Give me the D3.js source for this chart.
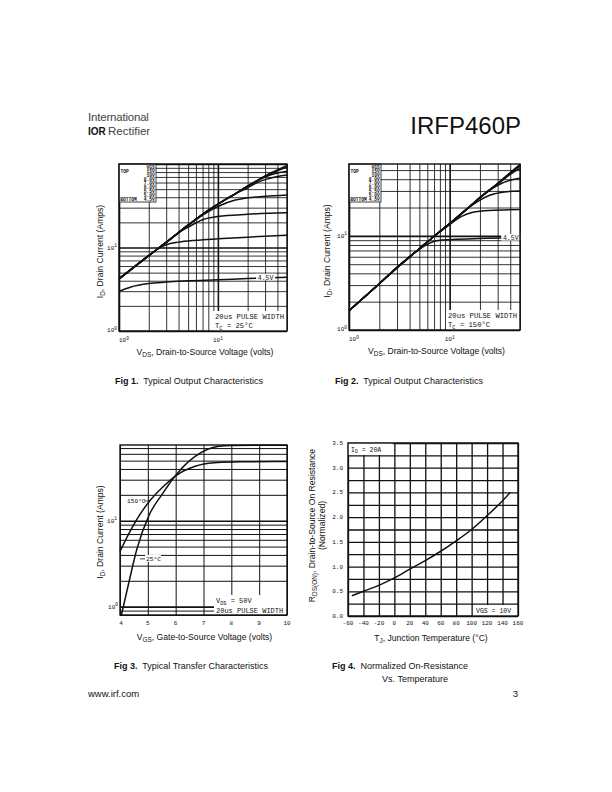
<!DOCTYPE html>
<html lang="en">
<head>
<meta charset="UTF-8">
<title>IRFP460P</title>
<script src="https://d3js.org/d3.v7.min.js"></script>
<style>
  body { margin: 0; background: #fff; }
  svg { display: block; }
  text { font-family: "Liberation Sans", Arial, sans-serif; fill: #111; }
  .mono { font-family: "Liberation Mono", "DejaVu Sans Mono", monospace; }
</style>
</head>
<body>
<div id="page"></div>
<script>
// ---------- data ----------
const vgsSteps = ["15V", "10V", "8.0V", "7.0V", "6.0V", "5.5V", "5.0V", "4.5V"];

// Fig 1: Tc = 25C, [VDS (V), ID (A)] per VGS step
const fig1_15V = [[1,4.2],[2,8],[3,11.5],[5,18.5],[7,25],[10,33],[15,44],[22,58],[30,72],[40,85],[50,96]];
const fig1_10V = [[1,4.2],[2,8],[3,11.5],[5,18.5],[7,25],[10,33],[15,44],[22,58],[30,71],[40,83],[50,92]];
const fig1_8V  = [[1,4.2],[2,8],[3,11.5],[5,18.5],[7,25],[10,33],[15,44],[22,58],[30,70],[40,78],[50,82]];
const fig1_7V  = [[1,4.2],[2,8],[3,11.5],[5,18.5],[7,25],[10,33],[15,44],[20,52],[25,60],[30,65],[40,71],[50,74]];
const fig1_6V  = [[1,4.2],[2,8],[3,11.5],[5,18.5],[7,24.5],[10,31],[15,37],[20,39.5],[30,41],[50,42.5]];
const fig1_55V = [[1,4.2],[2,8],[3,11.5],[4,15],[5,17.5],[7,21.5],[10,23.5],[20,25],[50,26]];
const fig1_5V  = [[1,4.2],[2,8],[2.6,10],[3,10.8],[4,11.6],[6,12.2],[10,12.7],[20,13.3],[50,14]];
const fig1_45V = [[1,3.0],[1.3,3.35],[2,3.7],[3,3.85],[5,4],[10,4.1],[20,4.25],[50,4.4]];
const fig1Curves = [fig1_15V, fig1_10V, fig1_8V, fig1_7V, fig1_6V, fig1_55V, fig1_5V, fig1_45V];

// Fig 2: Tc = 150C
const fig2_15V = [[1,1.6],[2,3.1],[3,4.6],[5,7.3],[7,9.9],[10,13.5],[15,19.5],[20,25.5],[30,36],[40,47],[50,57]];
const fig2_10V = [[1,1.6],[2,3.1],[3,4.6],[5,7.3],[7,9.9],[10,13.5],[15,19.5],[20,25.5],[30,36],[40,46.5],[50,56.5]];
const fig2_8V  = [[1,1.6],[2,3.1],[3,4.6],[5,7.3],[7,9.9],[10,13.5],[15,19.5],[20,25.5],[30,36],[40,46],[50,55]];
const fig2_7V  = [[1,1.6],[2,3.1],[3,4.6],[5,7.3],[7,9.9],[10,13.5],[15,19.5],[20,25.5],[30,35.5],[40,45],[50,52]];
const fig2_6V  = [[1,1.6],[2,3.1],[3,4.6],[5,7.3],[7,9.9],[10,13.5],[15,19.5],[20,25.5],[25,30.5],[30,34.5],[40,39],[50,41]];
const fig2_55V = [[1,1.6],[2,3.1],[3,4.6],[5,7.3],[7,9.9],[10,13.5],[15,19.5],[20,24],[25,27],[35,29.3],[50,30]];
const fig2_5V  = [[1,1.6],[2,3.1],[3,4.6],[5,7.3],[7,9.9],[10,13.2],[13,16],[17,17.8],[25,18.6],[50,19]];
const fig2_45V = [[1,1.6],[2,3.1],[3,4.6],[5,7.2],[6.5,8.5],[8,9],[12,9.2],[50,9.6]];
const fig2Curves = [fig2_15V, fig2_10V, fig2_8V, fig2_7V, fig2_6V, fig2_55V, fig2_5V, fig2_45V];

// Fig 3: transfer, VDS = 50V, [VGS (V), ID (A)]
const transferLabels = ["150\u00B0C", "25\u00B0C"];
const fig3_150C = [[4,4.4],[4.3,6.9],[4.6,10.3],[5.05,16.7],[5.5,24],[6.04,34],[6.7,43],[7.5,47.5],[8.5,48.5],[10,49]];
const fig3_25C  = [[4.05,0.8],[4.3,1.8],[4.6,4.6],[5.05,11.7],[5.5,20],[6.04,35],[6.7,56],[7.5,73],[8,75],[10,75.5]];
const fig3Ticks = [4, 5, 6, 7, 8, 9, 10];

// Fig 4: normalized RDS(on) vs TJ
const fig4Temp = [-55, -40, -20, 0, 20, 40, 60, 80, 100, 120, 140, 150];
const fig4Rds  = [0.41, 0.50, 0.62, 0.77, 0.95, 1.12, 1.31, 1.52, 1.75, 2.03, 2.33, 2.50];
const fig4XTicks = [-60, -40, -20, 0, 20, 40, 60, 80, 100, 120, 140, 160];
const fig4YTicks = [0, 0.5, 1, 1.5, 2, 2.5, 3, 3.5];
const fig4YGrid  = [0, 0.25, 0.5, 0.75, 1, 1.25, 1.5, 1.75, 2, 2.25, 2.5, 2.75, 3, 3.25, 3.5];

// ---------- page ----------
const W = 612, H = 792;
const ink = "#111";
const svg = d3.select("#page").append("svg")
  .attr("width", W).attr("height", H).attr("viewBox", [0, 0, W, H]);

// rich text helper: parts = [[text, "sub"|"sup"|null], ...]
function rich(g, x, y, parts, size, opts = {}) {
  const t = g.append("text").attr("x", x).attr("y", y).attr("font-size", size)
    .attr("text-anchor", opts.anchor || "start");
  if (opts.rotate) t.attr("transform", `rotate(-90,${x},${y})`);
  if (opts.cls) t.attr("class", opts.cls);
  let shift = 0;
  parts.forEach(([s, kind]) => {
    const sp = t.append("tspan").text(s);
    const want = kind === "sub" ? size * 0.28 : kind === "sup" ? -size * 0.4 : 0;
    if (want !== shift) sp.attr("dy", want - shift);
    shift = want;
    if (kind) sp.attr("font-size", size * 0.75);
  });
  return t;
}

function pow10(g, x, y, exp, anchor) {
  rich(g, x, y, [["10"], [exp, "sup"]], 6, { anchor, cls: "mono" });
}

function grid(g, x, y, xv, yv, majorX, majorY, minorW) {
  const [l, r] = x.range(), [b, t] = y.range();
  g.append("g").attr("transform", `translate(0,${b})`)
    .call(d3.axisBottom(x).tickValues(xv).tickSize(-(b - t)).tickFormat(""))
    .call(s => s.select(".domain").remove())
    .selectAll("line").attr("stroke", ink)
    .attr("stroke-width", d => majorX(d) ? 1.6 : minorW);
  g.append("g").attr("transform", `translate(${l},0)`)
    .call(d3.axisLeft(y).tickValues(yv).tickSize(-(r - l)).tickFormat(""))
    .call(s => s.select(".domain").remove())
    .selectAll("line").attr("stroke", ink)
    .attr("stroke-width", d => majorY(d) ? 1.6 : minorW);
}

function border(g, x, y) {
  const [l, r] = x.range(), [b, t] = y.range();
  g.append("rect").attr("x", l).attr("y", t).attr("width", r - l).attr("height", b - t)
    .attr("fill", "none").attr("stroke", ink).attr("stroke-width", 1.4);
}

function box(g, x0, y0, w, h, stroke) {
  g.append("rect").attr("x", x0).attr("y", y0).attr("width", w).attr("height", h)
    .attr("fill", "#fff").attr("stroke", stroke ? ink : "none").attr("stroke-width", 0.8);
}

function curves(g, x, y, list, width) {
  const line = d3.line().x(d => x(d[0])).y(d => y(d[1])).curve(d3.curveMonotoneX);
  g.append("g").selectAll("path").data(list).join("path")
    .attr("d", line).attr("fill", "none").attr("stroke", ink)
    .attr("stroke-width", width).attr("stroke-linejoin", "round");
}

function legend(g, x0, y0, w) {
  box(g, x0, y0, w, 38, true);
  const rows = ["VGS", ...vgsSteps];
  const tx = (s, xx, yy, anchor) => g.append("text").attr("class", "mono").attr("font-size", 4.6)
    .attr("font-weight", "bold").attr("x", xx).attr("y", yy).attr("text-anchor", anchor).text(s);
  rows.forEach((s, i) => tx(s, x0 + w - 1.2, y0 + 5.2 + i * 3.95, "end"));
  tx("TOP", x0 + 1.5, y0 + 5.2 + 3.95, "start");
  tx("BOTTOM", x0 + 1.2, y0 + 5.2 + 8 * 3.95, "start");
}

const isPow10 = d => Math.abs(Math.log10(d) - Math.round(Math.log10(d))) < 1e-9;

// ---------- output characteristic charts ----------
function outputChart(cfg) {
  const g = svg.append("g");
  const x = d3.scaleLog().domain(cfg.xDomain).range(cfg.xRange);
  const y = d3.scaleLog().domain(cfg.yDomain).range(cfg.yRange);
  grid(g, x, y, x.ticks(), y.ticks(), isPow10, isPow10, 0.85);
  curves(g, x, y, cfg.data, 1.5);
  legend(g, cfg.xRange[0], cfg.yRange[1], cfg.legendW);

  // 4.5V tag on the lowest curve
  const last = cfg.data[cfg.data.length - 1];
  const tagV = cfg.tagAt;
  const tagI = last.find(p => p[0] >= tagV)[1];
  box(g, x(tagV) - 9, y(tagI) - 3.5, 19, 6.5, false);
  g.append("text").attr("class", "mono").attr("font-size", 6.5)
    .attr("x", x(tagV) + 0.5).attr("y", y(tagI) + 2.3).attr("text-anchor", "middle").text("4.5V");

  // pulse-width note
  const [l, r] = x.range(), [b] = y.range();
  box(g, r - 74, b - 20, 74, 20, false);
  rich(g, r - 72, b - 12, [["20us PULSE WIDTH"]], 7.2, { cls: "mono" });
  rich(g, r - 72, b - 3, [["T"], ["C", "sub"], [" = " + cfg.tc]], 7.2, { cls: "mono" });
  border(g, x, y);

  // tick labels
  pow10(g, l - 2, b + 1, "0", "end");
  pow10(g, l - 2, y(10) + 2, "1", "end");
  pow10(g, l, b + 11, "0", "start");
  pow10(g, x(10), b + 11, "1", "middle");

  // axis titles
  rich(g, (l + r) / 2 + 2, b + 24, [["V"], ["DS", "sub"], [", Drain-to-Source Voltage (volts)"]], 8.6, { anchor: "middle" });
  rich(g, cfg.yTitleX, (b + cfg.yRange[1]) / 2 + 4, [["I"], ["D", "sub"], [", Drain Current (Amps)"]], 8.6, { anchor: "middle", rotate: true });
}

outputChart({
  xDomain: [1, 50], xRange: [119, 287], yDomain: [1, 100], yRange: [331, 164],
  data: fig1Curves, legendW: 37, tagAt: 30, tc: "25\u00B0C", yTitleX: 103
});
outputChart({
  xDomain: [1, 50], xRange: [349, 520], yDomain: [1, 58], yRange: [330, 164],
  data: fig2Curves, legendW: 32, tagAt: 40, tc: "150\u00B0C", yTitleX: 330
});

// ---------- Fig 3: transfer characteristics ----------
{
  const g = svg.append("g");
  const x = d3.scaleLinear().domain([4, 10]).range([120, 287]);
  const y = d3.scaleLog().domain([0.8, 76]).range([615, 445]);
  grid(g, x, y, fig3Ticks, y.ticks(), () => false, isPow10, 1);
  curves(g, x, y, [fig3_150C, fig3_25C], 1.5);
  const [l, r] = x.range(), [b, t] = y.range();

  // temperature tags
  box(g, 126, y(17) - 4, 18, 7, false);
  g.append("text").attr("class", "mono").attr("font-size", 6.2).attr("x", 127).attr("y", y(17) + 2).text(transferLabels[0]);
  g.append("line").attr("x1", 144).attr("x2", 149).attr("y1", y(17)).attr("y2", y(17)).attr("stroke", ink).attr("stroke-width", 0.8);
  box(g, 145, y(3.6) - 4, 16, 7, false);
  g.append("text").attr("class", "mono").attr("font-size", 6.2).attr("x", 146).attr("y", y(3.6) + 2).text(transferLabels[1]);
  g.append("line").attr("x1", 140).attr("x2", 145).attr("y1", y(3.6)).attr("y2", y(3.6)).attr("stroke", ink).attr("stroke-width", 0.8);

  box(g, r - 73, b - 20, 73, 20, false);
  rich(g, r - 71, b - 12, [["V"], ["DS", "sub"], [" = 50V"]], 7, { cls: "mono" });
  rich(g, r - 71, b - 2.2, [["20us PULSE WIDTH"]], 7, { cls: "mono" });
  border(g, x, y);

  fig3Ticks.forEach(v => g.append("text").attr("class", "mono").attr("font-size", 6)
    .attr("x", x(v) + (v === 4 ? 1 : 0)).attr("y", b + 10).attr("text-anchor", "middle").text(v));
  pow10(g, l - 2, y(1) + 2, "0", "end");
  pow10(g, l - 3, y(10) + 2, "1", "end");

  rich(g, (l + r) / 2 + 1, b + 25, [["V"], ["GS", "sub"], [", Gate-to-Source Voltage (volts)"]], 8.6, { anchor: "middle" });
  rich(g, 103, (b + t) / 2 + 2, [["I"], ["D", "sub"], [", Drain Current (Amps)"]], 8.6, { anchor: "middle", rotate: true });
}

// ---------- Fig 4: normalized on-resistance ----------
{
  const g = svg.append("g");
  const x = d3.scaleLinear().domain([-60, 160]).range([348, 518]);
  const y = d3.scaleLinear().domain([0, 3.5]).range([616, 443]);
  grid(g, x, y, fig4XTicks, fig4YGrid, () => false, () => false, 1.3);
  const pts = fig4Temp.map((t, i) => [t, fig4Rds[i]]);
  curves(g, x, y, [pts], 1.5);
  const [l, r] = x.range(), [b, t] = y.range();

  box(g, l, t, 45, 12, false);
  rich(g, l + 3, t + 8.5, [["I"], ["D", "sub"], [" = 20A"]], 6.5, { cls: "mono" });
  box(g, r - 45, b - 11, 45, 11, false);
  rich(g, r - 42, b - 3, [["VGS = 10V"]], 6.5, { cls: "mono" });
  border(g, x, y);

  fig4XTicks.forEach(v => g.append("text").attr("class", "mono").attr("font-size", 6)
    .attr("x", x(v)).attr("y", b + 9).attr("text-anchor", "middle").text(v));
  fig4YTicks.forEach(v => g.append("text").attr("class", "mono").attr("font-size", 6)
    .attr("x", l - 5).attr("y", y(v) + 2).attr("text-anchor", "end").text(v.toFixed(1)));

  rich(g, (l + r) / 2 - 2, b + 25, [["T"], ["J", "sub"], [", Junction Temperature (\u00B0C)"]], 8.6, { anchor: "middle" });
  rich(g, 315, (b + t) / 2 - 4, [["R"], ["DS(ON)", "sub"], [", Drain-to-Source On Resistance"]], 8.6, { anchor: "middle", rotate: true });
  rich(g, 325, (b + t) / 2 - 4, [["(Normalized)"]], 8.6, { anchor: "middle", rotate: true });
}

// ---------- header, captions, footer ----------
svg.append("text").attr("x", 88).attr("y", 121).attr("font-size", 11.5)
  .attr("fill", "#444").style("fill", "#444").attr("letter-spacing", -0.2).text("International");
svg.append("text").attr("x", 88).attr("y", 135).attr("font-size", 10).attr("font-weight", "bold")
  .attr("font-family", "Liberation Serif, serif").text("IOR");
svg.append("text").attr("x", 108).attr("y", 135).attr("font-size", 11.5)
  .style("fill", "#444").text("Rectifier");
svg.append("text").attr("x", 521).attr("y", 134).attr("font-size", 24).attr("text-anchor", "end").text("IRFP460P");

function caption(x, y, num, text) {
  const t = svg.append("text").attr("x", x).attr("y", y).attr("font-size", 9).attr("xml:space", "preserve");
  t.append("tspan").attr("font-weight", "bold").text(`Fig ${num}.`);
  t.append("tspan").text("  " + text);
  return t;
}
caption(115, 384, 1, "Typical Output Characteristics");
caption(335, 384, 2, "Typical Output Characteristics");
caption(114, 669, 3, "Typical Transfer Characteristics");
caption(332, 669, 4, "Normalized On-Resistance");
svg.append("text").attr("x", 415).attr("y", 682).attr("font-size", 9).attr("text-anchor", "middle").text("Vs. Temperature");

svg.append("text").attr("x", 88).attr("y", 697).attr("font-size", 9.5).text("www.irf.com");
svg.append("text").attr("x", 518).attr("y", 697).attr("font-size", 9.5).attr("text-anchor", "end").text("3");
</script>
</body>
</html>
